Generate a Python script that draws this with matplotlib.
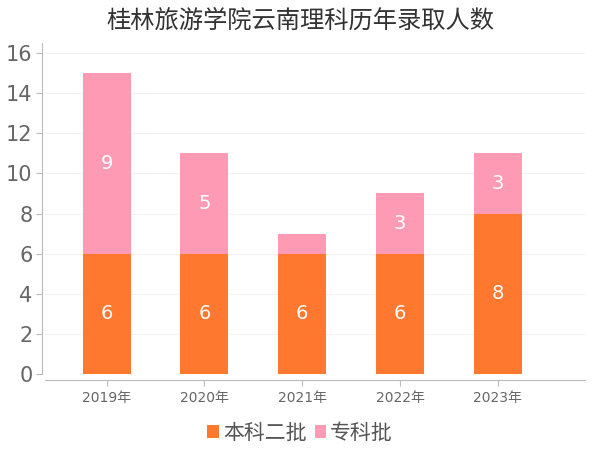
import matplotlib
matplotlib.use("Agg")
import matplotlib.pyplot as plt
import numpy as np

plt.rcParams['font.family'] = ['DejaVu Sans', 'Noto Sans CJK SC']

years = ['2019年', '2020年', '2021年', '2022年', '2023年']
benke = [6, 6, 6, 6, 8]
zhuanke = [9, 5, 1, 3, 3]
series_names = ['本科二批', '专科批']
colors = ['#FF7830', '#FF9AB5']
yticks = [0, 2, 4, 6, 8, 10, 12, 14, 16]

fig = plt.figure(figsize=(6, 4.5), dpi=100)
ax = fig.add_axes([45/600, 1-374/450, 540/600, (374-43)/450])

x = np.arange(len(years))
w = 0.49
b1 = ax.bar(x, benke, w, color=colors[0], linewidth=0, label=series_names[0], zorder=3)
b2 = ax.bar(x, zhuanke, w, bottom=benke, color=colors[1], linewidth=0, label=series_names[1], zorder=3)

for i in range(len(years)):
    ax.text(x[i], benke[i]/2, str(benke[i]), ha='center', va='center', color='white', fontsize=14, zorder=4)
    if zhuanke[i] >= 2:
        ax.text(x[i], benke[i] + zhuanke[i]/2, str(zhuanke[i]), ha='center', va='center', color='white', fontsize=14, zorder=4)

ax.set_xlim(-0.63, 4.89)
ax.set_ylim(0, 16.5)
ax.set_yticks(yticks)
ax.set_yticklabels([str(v) for v in yticks])
ax.set_xticks(x)
ax.set_xticklabels(years)
ax.tick_params(axis='y', labelsize=15, colors='#666666', length=4, width=0.8, pad=3)
ax.tick_params(axis='x', labelsize=10, colors='#666666', length=4, width=0.8, pad=4)
ax.tick_params(axis='y', color='#bbbbbb')
ax.tick_params(axis='x', color='#bbbbbb')

for s in ['top', 'right']:
    ax.spines[s].set_visible(False)
ax.spines['left'].set_color('#bbbbbb')
ax.spines['bottom'].set_color('#bbbbbb')
ax.spines['left'].set_position(('outward', 2))
ax.spines['bottom'].set_position(('outward', 4))
ax.spines['left'].set_bounds(0, 16.5)

ax.yaxis.grid(True, color='#f2f2f2', linewidth=0.8, zorder=0)
ax.set_axisbelow(True)

fig.suptitle('桂林旅游学院云南理科历年录取人数', x=0.5, y=0.98, fontsize=17.5, color='#333333')

leg = fig.legend(handles=[b1, b2], labels=series_names, loc='center', bbox_to_anchor=(0.5, 1-433/450),
                 ncol=2, frameon=False, fontsize=15, handlelength=0.55, handleheight=0.55,
                 handletextpad=0.2, columnspacing=0.4, labelcolor='#555555')

fig.savefig('out.png', dpi=100)
